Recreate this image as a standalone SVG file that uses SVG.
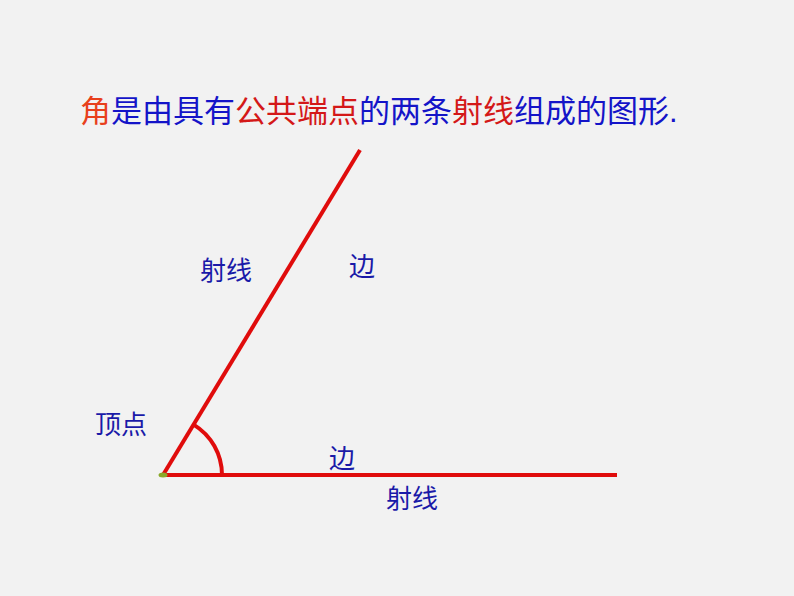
<svg xmlns="http://www.w3.org/2000/svg" width="794" height="596" viewBox="0 0 794 596">
<style>
.t{font-family:"Liberation Sans","Noto Sans CJK SC",sans-serif}
.b{fill:#1414c8}
.r{fill:#d41818}
.o{fill:#e8401c}
.lbl{font-family:"Liberation Sans","Noto Sans CJK SC",sans-serif;font-size:26px;fill:#1a1aa8}
.ray{stroke:#e00c0c;stroke-width:4;fill:none;stroke-linecap:butt}
</style>
<rect width="794" height="596" fill="#f2f2f2"/>
<g id="title">
<text class="t" x="80" y="122" font-size="31"><tspan class="o">角</tspan><tspan class="b">是由具有</tspan><tspan class="r">公共端点</tspan><tspan class="b">的两条</tspan><tspan class="r">射线</tspan><tspan class="b">组成的图形.</tspan></text>
</g>
<g id="connectors">
<line class="ray" x1="163" y1="475" x2="360" y2="150"/>
<line class="ray" x1="163" y1="475" x2="617" y2="475"/>
<path class="ray" d="M222 475 A59 59 0 0 0 193.6 424.6"/>
</g>
<g id="vertex">
<ellipse cx="163" cy="475" rx="4.5" ry="2.5" fill="#8aa82a"/>
</g>
<g id="label-ray1"><text class="lbl" x="200" y="280">射线</text></g>
<g id="label-side1"><text class="lbl" x="349" y="276">边</text></g>
<g id="label-vertex"><text class="lbl" x="95" y="434">顶点</text></g>
<g id="label-side2"><text class="lbl" x="329" y="468">边</text></g>
<g id="label-ray2"><text class="lbl" x="386" y="508">射线</text></g>
</svg>
